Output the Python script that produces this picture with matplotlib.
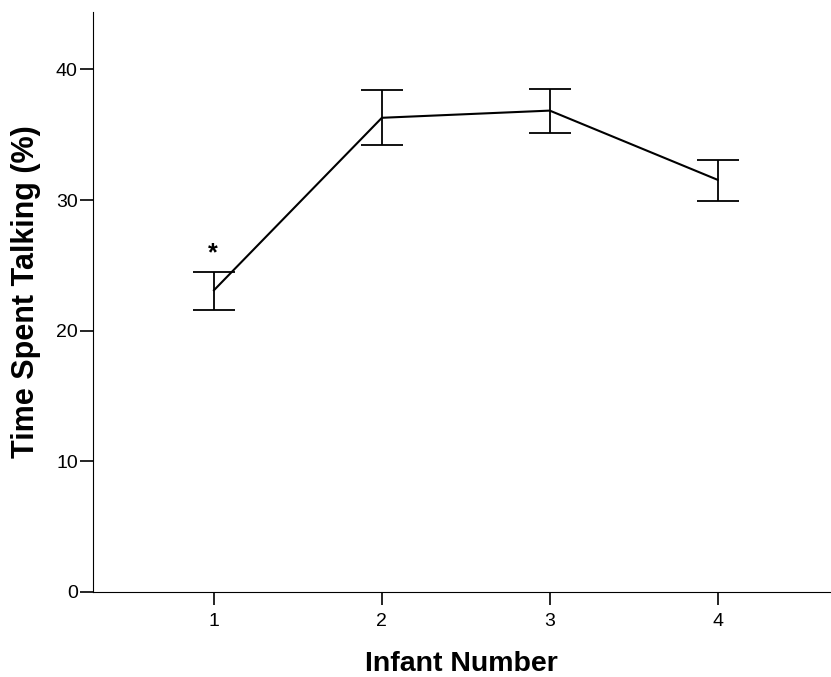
import matplotlib.pyplot as plt

plt.rcParams['font.family'] = ['Liberation Sans', 'DejaVu Sans']

infant = [1, 2, 3, 4]
talking = [23.1, 36.3, 36.85, 31.55]
err_low = [21.6, 34.25, 35.1, 29.9]
err_high = [24.5, 38.4, 38.5, 33.1]

lower = [m - lo for m, lo in zip(talking, err_low)]
upper = [hi - m for m, hi in zip(talking, err_high)]

fig = plt.figure(figsize=(8.31, 6.77), dpi=100)
ax = fig.add_axes([0.112, 0.1256, 0.887, 0.8567])

ax.errorbar(infant, talking, yerr=[lower, upper], color='black', lw=1.5,
            elinewidth=1.3, capsize=15, capthick=1.3)
ax.text(infant[0] - 0.01, 25.9, '*', ha='center', va='center', fontsize=18, fontweight='bold')

ax.set_xlim(0.28, 4.67)
ax.set_ylim(0, 44.4)
ax.set_xticks(infant)
ax.set_yticks([0, 10, 20, 30, 40])
ax.spines['top'].set_visible(False)
ax.spines['right'].set_visible(False)
ax.tick_params(direction='out', length=9.5, width=1.2, labelsize=14)
ax.tick_params(axis='y', pad=1.5)
ax.tick_params(axis='x', pad=6)
ax.set_xlabel('Infant Number', fontsize=20.5, fontweight='bold', labelpad=15)
ax.set_ylabel('Time Spent Talking (%)', fontsize=22, fontweight='bold')
ax.yaxis.set_label_coords(-0.07, 0.517)

fig.savefig('out.png', dpi=100)
